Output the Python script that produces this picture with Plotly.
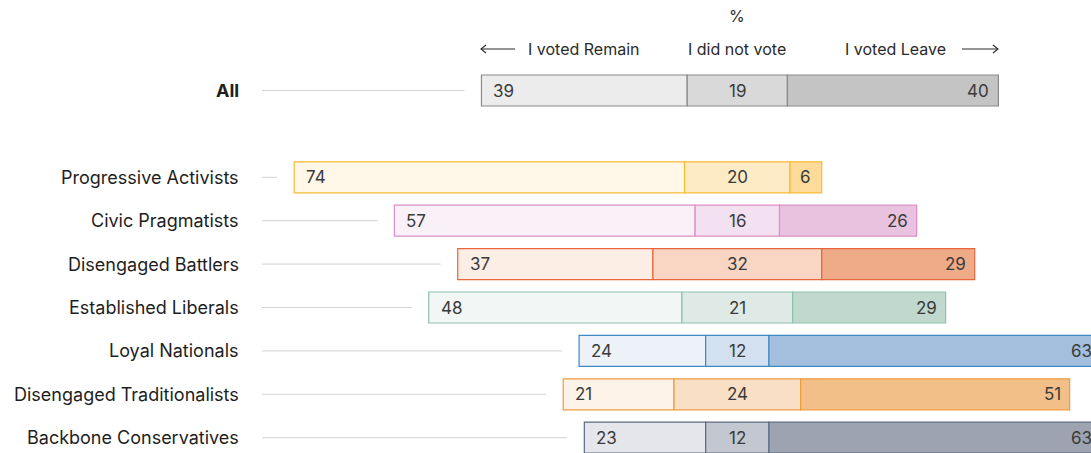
import plotly.graph_objects as go

# Brexit vote by segment, %
segments = [
    "All",
    "Progressive Activists",
    "Civic Pragmatists",
    "Disengaged Battlers",
    "Established Liberals",
    "Loyal Nationals",
    "Disengaged Traditionalists",
    "Backbone Conservatives",
]
remain = [39, 74, 57, 37, 48, 24, 21, 23]
no_vote = [19, 20, 16, 32, 21, 12, 24, 12]
leave = [40, 6, 26, 29, 29, 63, 51, 63]

remain_colors = ["#ececec", "#fff7e8", "#f9f1f7", "#fcede5", "#f2f6f4", "#edf2f9", "#fdf3e9", "#e4e6eb"]
novote_colors = ["#d9d9d9", "#fdebc6", "#f3e0f0", "#f9d5c3", "#dfeae6", "#d3e0ef", "#f9dfc6", "#c3c7cf"]
leave_colors = ["#c4c4c4", "#fddc9b", "#e9c2df", "#efaa88", "#c0d8ce", "#a4bfdd", "#f2bf89", "#9da3b0"]
border_colors = ["#8a8a8a", "#f6bb35", "#dc8fc6", "#e9653c", "#8cc2ac", "#3d89c1", "#ef9c3e", "#5b6b80"]

# layout helpers (screen pixel mapping of the original)
PX_X = 5.275      # px per percentage point
CENTER_PX = 737.3
PX_Y = 43.4       # px per row
ROW0_PX = 90.5
FIG_W, FIG_H = 1110, 453


def sx(px):
    return (px - CENTER_PX) / PX_X


def sy(px):
    return (px - ROW0_PX) / PX_Y


ypos = [0] + [i + 1 for i in range(1, len(segments))]
base_remain = [-n / 2 - r for r, n in zip(remain, no_vote)]
base_novote = [-n / 2 for n in no_vote]
base_leave = [n / 2 for n in no_vote]

fig = go.Figure()
for vals, bases, cols in [
    (remain, base_remain, remain_colors),
    (no_vote, base_novote, novote_colors),
    (leave, base_leave, leave_colors),
]:
    fig.add_trace(go.Bar(
        y=ypos, x=vals, base=bases, orientation="h", width=0.715,
        marker=dict(color=cols, line=dict(color=border_colors, width=1.2)),
        hoverinfo="skip", showlegend=False,
    ))

FONT = "Inter, Lato, sans-serif"
num_font = dict(family=FONT, size=17, color="#3a3a3a")
lab_font = dict(family=FONT, size=18, color="#1e1e1e")

annotations = []
shapes = []
for i, seg in enumerate(segments):
    y = ypos[i]
    r, n, l = remain[i], no_vote[i], leave[i]
    annotations.append(dict(x=base_remain[i], y=y, text=str(r), xanchor="left",
                            xshift=10, showarrow=False, font=num_font))
    annotations.append(dict(x=0, y=y, text=str(n), xanchor="center",
                            showarrow=False, font=num_font))
    if l < 10:
        annotations.append(dict(x=n / 2 + l / 2, y=y, text=str(l), xanchor="center",
                                showarrow=False, font=num_font))
    else:
        annotations.append(dict(x=n / 2 + l, y=y, text=str(l), xanchor="right",
                                xshift=-7, showarrow=False, font=num_font))
    txt = "<b>%s</b>" % seg if seg == "All" else seg
    annotations.append(dict(x=sx(241), y=y, text=txt, xanchor="right",
                            showarrow=False, font=lab_font))
    shapes.append(dict(type="line", x0=sx(262), x1=base_remain[i] - 17 / PX_X,
                       y0=y, y1=y, line=dict(color="#d2d2d2", width=1)))

hdr_font = dict(family=FONT, size=16, color="#2a2a2a")
y_pct = sy(16)
y_hdr = sy(49)
annotations += [
    dict(x=0, y=y_pct, text="%", showarrow=False, xanchor="center", font=hdr_font),
    dict(x=sx(642), y=y_hdr, text="I voted Remain", showarrow=False,
         xanchor="right", font=hdr_font),
    dict(x=0, y=y_hdr, text="I did not vote", showarrow=False, xanchor="center", font=hdr_font),
    dict(x=sx(948), y=y_hdr, text="I voted Leave", showarrow=False,
         xanchor="right", font=hdr_font),
]

# header arrows
arrow = dict(color="#2a2a2a", width=1.1)
hy = sy(49)
dy = 4 / PX_Y
dx = 5 / PX_X
shapes += [
    dict(type="line", x0=sx(481), x1=sx(515), y0=hy, y1=hy, line=arrow),
    dict(type="path", path="M %f %f L %f %f L %f %f" % (sx(481) + dx, hy - dy, sx(481), hy, sx(481) + dx, hy + dy), line=arrow),
    dict(type="line", x0=sx(962), x1=sx(998), y0=hy, y1=hy, line=arrow),
    dict(type="path", path="M %f %f L %f %f L %f %f" % (sx(998) - dx, hy - dy, sx(998), hy, sx(998) - dx, hy + dy), line=arrow),
]

fig.update_layout(
    width=FIG_W, height=FIG_H,
    margin=dict(l=0, r=0, t=0, b=0),
    paper_bgcolor="white", plot_bgcolor="white",
    barmode="overlay",
    xaxis=dict(range=[sx(0), sx(FIG_W)], visible=False, fixedrange=True),
    yaxis=dict(range=[sy(FIG_H), sy(0)], visible=False, fixedrange=True),
    annotations=annotations,
    shapes=shapes,
)

fig.write_html(
    "out.html",
    config={"displayModeBar": False},
    post_script="document.body.style.margin='0';document.body.style.overflow='hidden';",
)
